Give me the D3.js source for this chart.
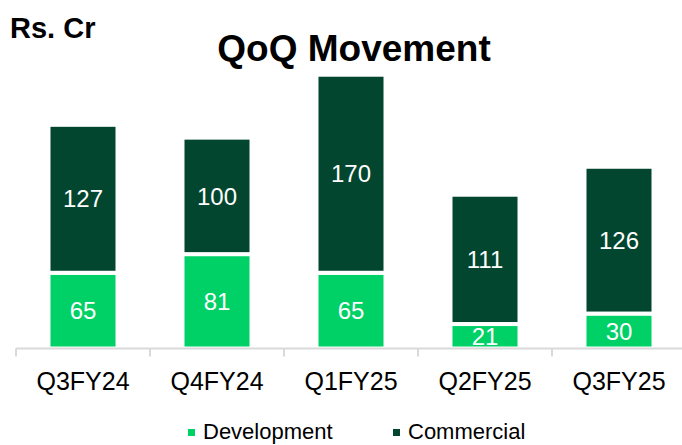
<!DOCTYPE html>
<html>
<head>
<meta charset="utf-8">
<script src="https://cdn.jsdelivr.net/npm/d3@7"></script>
<style>
  body { margin: 0; background: #fff; }
  svg { display: block; font-family: "Liberation Sans", Arial, sans-serif; }
</style>
</head>
<body>
<div id="chart"></div>
<script>
// quarters and the two series (Rs. Cr)
var quarters = ["Q3FY24", "Q4FY24", "Q1FY25", "Q2FY25", "Q3FY25"];
var development = [65, 81, 65, 21, 30];
var commercial = [127, 100, 170, 111, 126];
var seriesNames = ["Development", "Commercial"];

var w = 682, h = 445;
var colors = { Development: "#00d166", Commercial: "#03462f" };

var svg = d3.select("#chart").append("svg")
  .attr("width", w)
  .attr("height", h);

var rows = quarters.map(function(q, i) {
  return { quarter: q, Development: development[i], Commercial: commercial[i] };
});

var x = d3.scaleBand()
  .domain(quarters)
  .range([16, 686])
  .paddingInner(0)
  .paddingOuter(0);

var y = d3.scaleLinear()
  .domain([0, 250])
  .range([348.5, 57.25]);

var stack = d3.stack().keys(seriesNames)(rows);
var barW = x.bandwidth() * 0.515;

var layers = svg.append("g").selectAll("g.layer")
  .data(stack)
  .enter().append("g")
  .attr("class", "layer")
  .attr("fill", function(d) { return colors[d.key]; });

layers.selectAll("rect")
  .data(function(d) { return d; })
  .enter().append("rect")
  .attr("x", function(d) { return x(d.data.quarter) + (x.bandwidth() - barW) / 2; })
  .attr("width", barW)
  .attr("y", function(d) { return y(d[1]); })
  .attr("height", function(d) { return y(d[0]) - y(d[1]); })
  .attr("stroke", "#fff")
  .attr("stroke-width", 4);

// value labels inside segments
layers.selectAll("text")
  .data(function(d) { return d; })
  .enter().append("text")
  .attr("x", function(d) { return x(d.data.quarter) + x.bandwidth() / 2; })
  .attr("y", function(d) { return (y(d[0]) + y(d[1])) / 2; })
  .attr("dy", "0.36em")
  .attr("text-anchor", "middle")
  .attr("fill", "#fff")
  .style("font-size", "24px")
  .text(function(d) { return d[1] - d[0]; });

// x axis: baseline with ticks between categories
var axis = svg.append("g");
axis.append("line")
  .attr("x1", x.range()[0]).attr("x2", x.range()[1])
  .attr("y1", y(0)).attr("y2", y(0))
  .attr("stroke", "#d9d9d9").attr("stroke-width", 2);

var bounds = quarters.map(function(q) { return x(q); }).concat([x.range()[1]]);
axis.selectAll("line.tick")
  .data(bounds)
  .enter().append("line")
  .attr("class", "tick")
  .attr("x1", function(d) { return d; }).attr("x2", function(d) { return d; })
  .attr("y1", y(0)).attr("y2", y(0) + 8)
  .attr("stroke", "#d9d9d9").attr("stroke-width", 2);

axis.selectAll("text")
  .data(quarters)
  .enter().append("text")
  .attr("x", function(d) { return x(d) + x.bandwidth() / 2; })
  .attr("y", 390)
  .attr("text-anchor", "middle")
  .attr("fill", "#000")
  .style("font-size", "25px")
  .text(function(d) { return d; });

// titles
svg.append("text")
  .attr("x", 10).attr("y", 38)
  .style("font-size", "29px").style("font-weight", "bold")
  .text("Rs. Cr");

svg.append("text")
  .attr("x", 354).attr("y", 61)
  .attr("text-anchor", "middle")
  .style("font-size", "37px").style("font-weight", "bold")
  .text("QoQ Movement");

// legend
var legendX = [188, 393];
var legend = svg.append("g").selectAll("g")
  .data(seriesNames)
  .enter().append("g")
  .attr("transform", function(d, i) { return "translate(" + legendX[i] + ",0)"; });

legend.append("rect")
  .attr("x", 0).attr("y", 429)
  .attr("width", 7).attr("height", 7)
  .attr("fill", function(d) { return colors[d]; });

legend.append("text")
  .attr("x", 15).attr("y", 439)
  .style("font-size", "22px")
  .text(function(d) { return d; });
</script>
</body>
</html>
